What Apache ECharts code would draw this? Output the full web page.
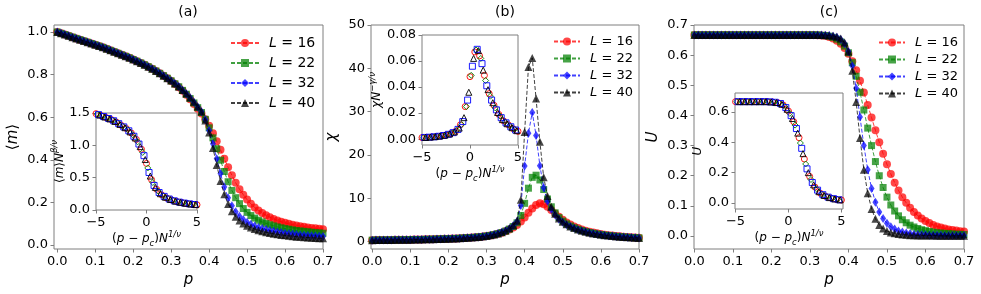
<!DOCTYPE html>
<html><head><meta charset="utf-8">
<script src="https://cdn.jsdelivr.net/npm/echarts@6/dist/echarts.min.js"></script>
<style>html,body{margin:0;padding:0;background:#fff}#c{width:981px;height:294px}</style>
</head><body><div id="c"></div>
<script>
// ---------- data ----------
const P = [0.00,0.01,0.02,0.03,0.04,0.05,0.06,0.07,0.08,0.09,
0.10,0.11,0.12,0.13,0.14,0.15,0.16,0.17,0.18,0.19,
0.20,0.21,0.22,0.23,0.24,0.25,0.26,0.27,0.28,0.29,
0.30,0.31,0.32,0.33,0.34,0.35,0.36,0.37,0.38,0.39,
0.40,0.41,0.42,0.43,0.44,0.45,0.46,0.47,0.48,0.49,
0.50,0.51,0.52,0.53,0.54,0.55,0.56,0.57,0.58,0.59,
0.60,0.61,0.62,0.63,0.64,0.65,0.66,0.67,0.68,0.69,0.70];
const LEGEND_NAMES = ['L = 16','L = 22','L = 32','L = 40'];

// panel (a): <m>
const M_16 = [1.000,0.994,0.988,0.982,0.976,0.970,0.964,0.958,0.952,0.946,
0.940,0.934,0.928,0.921,0.914,0.907,0.900,0.893,0.886,0.879,
0.871,0.863,0.855,0.846,0.837,0.827,0.817,0.806,0.795,0.783,
0.770,0.756,0.741,0.724,0.705,0.684,0.662,0.640,0.617,0.590,
0.560,0.525,0.487,0.447,0.405,0.365,0.327,0.292,0.262,0.236,
0.213,0.193,0.176,0.162,0.150,0.139,0.130,0.122,0.115,0.109,
0.104,0.099,0.095,0.091,0.088,0.085,0.082,0.080,0.078,0.076,0.074];
const M_22 = [1.000,0.994,0.988,0.982,0.976,0.970,0.964,0.958,0.952,0.946,
0.940,0.934,0.928,0.921,0.914,0.907,0.900,0.893,0.886,0.879,
0.871,0.863,0.855,0.846,0.837,0.827,0.817,0.806,0.795,0.783,
0.771,0.757,0.743,0.726,0.708,0.688,0.667,0.645,0.622,0.590,
0.550,0.503,0.452,0.398,0.345,0.297,0.256,0.222,0.194,0.171,
0.153,0.138,0.126,0.116,0.108,0.101,0.095,0.090,0.085,0.081,
0.077,0.074,0.071,0.068,0.066,0.064,0.062,0.060,0.058,0.057,0.055];
const M_32 = [1.000,0.994,0.988,0.982,0.976,0.970,0.964,0.958,0.952,0.946,
0.940,0.934,0.928,0.921,0.914,0.907,0.900,0.893,0.886,0.879,
0.871,0.863,0.855,0.846,0.837,0.827,0.817,0.806,0.795,0.783,
0.771,0.758,0.744,0.727,0.710,0.691,0.670,0.648,0.625,0.588,
0.538,0.475,0.405,0.335,0.272,0.222,0.184,0.156,0.135,0.119,
0.107,0.097,0.089,0.082,0.077,0.072,0.068,0.064,0.061,0.058,
0.055,0.053,0.051,0.049,0.047,0.046,0.044,0.043,0.042,0.041,0.040];
const M_40 = [1.000,0.994,0.988,0.982,0.976,0.970,0.964,0.958,0.952,0.946,
0.940,0.934,0.928,0.921,0.914,0.907,0.900,0.893,0.886,0.879,
0.871,0.863,0.855,0.846,0.837,0.827,0.817,0.806,0.795,0.783,
0.772,0.758,0.744,0.728,0.711,0.692,0.672,0.650,0.627,0.585,
0.528,0.455,0.375,0.300,0.238,0.192,0.158,0.133,0.115,0.101,
0.090,0.082,0.075,0.069,0.064,0.060,0.056,0.053,0.050,0.047,
0.045,0.043,0.041,0.039,0.038,0.036,0.035,0.034,0.033,0.032,0.031];

// panel (b): chi
const X_16 = [0.30,0.31,0.32,0.33,0.34,0.35,0.36,0.37,0.38,0.40,
0.41,0.43,0.44,0.46,0.48,0.50,0.52,0.54,0.57,0.60,
0.63,0.66,0.70,0.74,0.79,0.84,0.90,0.97,1.05,1.14,
1.25,1.38,1.55,1.76,2.02,2.34,2.74,3.22,3.80,4.60,
5.55,6.60,7.60,8.40,8.80,8.60,8.00,7.25,6.45,5.70,
5.00,4.40,3.90,3.45,3.08,2.75,2.48,2.24,2.04,1.86,
1.71,1.57,1.45,1.35,1.26,1.17,1.10,1.03,0.97,0.92,0.87];
const X_22 = [0.30,0.31,0.32,0.33,0.34,0.35,0.36,0.37,0.38,0.40,
0.41,0.43,0.44,0.46,0.48,0.50,0.52,0.54,0.57,0.60,
0.63,0.66,0.70,0.74,0.79,0.84,0.90,0.97,1.05,1.14,
1.25,1.39,1.57,1.79,2.06,2.40,2.85,3.45,4.30,6.00,
8.80,12.3,14.8,15.3,14.2,12.0,9.80,8.00,6.60,5.50,
4.70,4.05,3.55,3.15,2.80,2.52,2.27,2.06,1.88,1.72,
1.58,1.46,1.36,1.26,1.18,1.10,1.03,0.97,0.92,0.87,0.82];
const X_32 = [0.30,0.31,0.32,0.33,0.34,0.35,0.36,0.37,0.38,0.40,
0.41,0.43,0.44,0.46,0.48,0.50,0.52,0.54,0.57,0.60,
0.63,0.66,0.70,0.74,0.79,0.84,0.90,0.97,1.05,1.14,
1.25,1.40,1.58,1.81,2.10,2.46,2.95,3.65,4.60,8.30,
17.4,25.0,29.8,24.5,17.5,12.4,9.30,7.40,6.10,5.15,
4.45,3.88,3.42,3.04,2.72,2.45,2.21,2.01,1.83,1.68,
1.55,1.43,1.33,1.24,1.16,1.08,1.01,0.95,0.90,0.85,0.80];
const X_40 = [0.30,0.31,0.32,0.33,0.34,0.35,0.36,0.37,0.38,0.40,
0.41,0.43,0.44,0.46,0.48,0.50,0.52,0.54,0.57,0.60,
0.63,0.66,0.70,0.74,0.79,0.84,0.90,0.97,1.05,1.14,
1.25,1.41,1.60,1.83,2.13,2.50,3.02,3.75,4.80,9.60,
25.3,40.3,42.4,33.0,23.0,14.8,10.5,8.00,6.40,5.30,
4.55,3.95,3.47,3.08,2.75,2.47,2.23,2.03,1.85,1.69,
1.56,1.44,1.34,1.25,1.16,1.09,1.02,0.96,0.90,0.85,0.80];

// panel (c): U
const U_16 = [0.667,0.667,0.667,0.667,0.667,0.667,0.667,0.667,0.667,0.667,
0.667,0.667,0.667,0.667,0.667,0.667,0.667,0.667,0.667,0.667,
0.667,0.667,0.667,0.667,0.667,0.667,0.667,0.667,0.667,0.667,
0.667,0.667,0.666,0.665,0.664,0.660,0.655,0.648,0.638,0.624,
0.605,0.580,0.550,0.515,0.476,0.435,0.393,0.351,0.311,0.273,
0.238,0.206,0.177,0.151,0.129,0.110,0.094,0.080,0.068,0.058,
0.050,0.043,0.037,0.032,0.028,0.025,0.022,0.020,0.018,0.016,0.015];
const U_22 = [0.667,0.667,0.667,0.667,0.667,0.667,0.667,0.667,0.667,0.667,
0.667,0.667,0.667,0.667,0.667,0.667,0.667,0.667,0.667,0.667,
0.667,0.667,0.667,0.667,0.667,0.667,0.667,0.667,0.667,0.667,
0.667,0.667,0.667,0.666,0.665,0.663,0.659,0.653,0.644,0.630,
0.608,0.575,0.530,0.477,0.418,0.358,0.300,0.247,0.200,0.161,
0.129,0.103,0.083,0.067,0.054,0.044,0.036,0.030,0.025,0.021,
0.018,0.015,0.013,0.011,0.010,0.009,0.008,0.007,0.006,0.006,0.005];
const U_32 = [0.667,0.667,0.667,0.667,0.667,0.667,0.667,0.667,0.667,0.667,
0.667,0.667,0.667,0.667,0.667,0.667,0.667,0.667,0.667,0.667,
0.667,0.667,0.667,0.667,0.667,0.667,0.667,0.667,0.667,0.667,
0.667,0.667,0.667,0.667,0.666,0.665,0.663,0.659,0.652,0.638,
0.612,0.565,0.490,0.395,0.300,0.220,0.158,0.112,0.080,0.058,
0.042,0.031,0.023,0.017,0.013,0.010,0.008,0.006,0.005,0.004,
0.004,0.003,0.003,0.003,0.003,0.002,0.002,0.002,0.002,0.002,0.002];
const U_40 = [0.667,0.667,0.667,0.667,0.667,0.667,0.667,0.667,0.667,0.667,
0.667,0.667,0.667,0.667,0.667,0.667,0.667,0.667,0.667,0.667,
0.667,0.667,0.667,0.667,0.667,0.667,0.667,0.667,0.667,0.667,
0.667,0.667,0.667,0.667,0.666,0.666,0.664,0.661,0.655,0.642,
0.612,0.548,0.445,0.325,0.220,0.142,0.090,0.057,0.037,0.025,
0.017,0.012,0.009,0.007,0.005,0.004,0.003,0.003,0.002,0.002,
0.002,0.002,0.002,0.001,0.001,0.001,0.001,0.001,0.001,0.001,0.001];

// insets: scaled variable (p - p_c) N^{1/nu}
const IX_16 = [-5,-4.5,-4,-3.5,-3,-2.5,-2,-1.5,-1,-0.5,0,0.5,1,1.5,2,2.5,3,3.5,4,4.5,5];
const IX_22 = [-4.875,-4.375,-3.875,-3.375,-2.875,-2.375,-1.875,-1.375,-0.875,-0.375,0.125,0.625,1.125,1.625,2.125,2.625,3.125,3.625,4.125,4.625];
const IX_32 = [-4.75,-4.25,-3.75,-3.25,-2.75,-2.25,-1.75,-1.25,-0.75,-0.25,0.25,0.75,1.25,1.75,2.25,2.75,3.25,3.75,4.25,4.75];
const IX_40 = [-4.625,-4.125,-3.625,-3.125,-2.625,-2.125,-1.625,-1.125,-0.625,-0.125,0.375,0.875,1.375,1.875,2.375,2.875,3.375,3.875,4.375,4.875];
// inset (a): <m> N^{beta/nu}
const IA_16 = [1.49,1.46,1.43,1.40,1.36,1.31,1.26,1.19,1.09,0.94,0.72,0.47,0.32,0.235,0.185,0.155,0.13,0.115,0.10,0.09,0.08];
const IA_22 = [1.483,1.453,1.423,1.39,1.35,1.298,1.243,1.165,1.055,0.89,0.65,0.425,0.295,0.222,0.177,0.149,0.126,0.111,0.098,0.088];
const IA_32 = [1.475,1.445,1.415,1.38,1.335,1.285,1.225,1.14,1.02,0.84,0.58,0.38,0.27,0.21,0.17,0.142,0.122,0.107,0.095,0.085];
const IA_40 = [1.468,1.438,1.408,1.37,1.323,1.273,1.208,1.115,0.98,0.78,0.525,0.35,0.252,0.197,0.162,0.136,0.119,0.104,0.092,0.083];
// inset (b): chi N^{-gamma/nu}
const IB_16 = [0.0012,0.0014,0.0017,0.0020,0.0025,0.0032,0.0042,0.0060,0.011,0.025,0.048,0.067,0.064,0.049,0.035,0.026,0.019,0.014,0.011,0.008,0.006];
const IB_22 = [0.0012,0.0015,0.0018,0.0021,0.0027,0.0035,0.0046,0.0068,0.0112,0.025,0.049,0.0685,0.062,0.045,0.033,0.024,0.0178,0.0133,0.0102,0.0075];
const IB_32 = [0.0013,0.0015,0.0018,0.0022,0.0028,0.0037,0.0050,0.0075,0.0135,0.030,0.056,0.069,0.058,0.041,0.030,0.0225,0.0165,0.0125,0.0095,0.007];
const IB_40 = [0.0013,0.0016,0.0019,0.0024,0.003,0.004,0.0055,0.0085,0.0165,0.036,0.062,0.068,0.053,0.038,0.028,0.0205,0.015,0.0118,0.0088,0.0065];
// inset (c): U
const IC_16 = [0.667,0.667,0.667,0.667,0.667,0.667,0.667,0.665,0.66,0.645,0.605,0.535,0.43,0.29,0.175,0.105,0.065,0.045,0.033,0.025,0.02];
const IC_22 = [0.667,0.667,0.667,0.667,0.667,0.667,0.666,0.664,0.658,0.637,0.59,0.513,0.395,0.257,0.155,0.095,0.06,0.042,0.031,0.024];
const IC_32 = [0.667,0.667,0.667,0.667,0.667,0.667,0.666,0.663,0.655,0.628,0.575,0.49,0.36,0.225,0.135,0.085,0.055,0.039,0.029,0.022];
const IC_40 = [0.667,0.667,0.667,0.667,0.667,0.667,0.665,0.661,0.65,0.617,0.556,0.46,0.325,0.2,0.12,0.075,0.05,0.036,0.027,0.021];

// tick values
const TICK_P = [0,0.1,0.2,0.3,0.4,0.5,0.6,0.7];
const TICK_M = [0,0.2,0.4,0.6,0.8,1.0];
const TICK_CHI = [0,10,20,30,40,50];
const TICK_U = [0,0.1,0.2,0.3,0.4,0.5,0.6,0.7];
const TICK_IX = [-5,0,5];
const TICK_IA = [0,0.5,1.0,1.5];
const TICK_IB = [0,0.02,0.04,0.06,0.08];
const TICK_IC = [0,0.2,0.4,0.6];

// ---------- styling ----------
const FONT = 'DejaVu Sans';
const SPINE = '#7f7f7f';
const COLORS = ['#ff0000','#008000','#0000ff','#000000'];
const SYMS = ['circle','rect','diamond','triangle'];
const SYMSIZE = [8,7,[6,9],8];
const ISYMS = ['circle','diamond','rect','triangle'];
const ICOL = ['#ff0000','#008000','#0000ff','#000000'];

const neg = v => (v < 0 ? '\u2212' + Math.abs(v) : String(v));
const f1 = v => v.toFixed(1);
const f2 = v => v.toFixed(2);

const RICH = {
  n: {fontFamily: FONT, fontSize: 12, lineHeight: 18, verticalAlign: 'middle', color: '#000'},
  i: {fontFamily: FONT, fontSize: 12, fontStyle: 'italic', lineHeight: 18, verticalAlign: 'middle', color: '#000'},
  sup: {fontFamily: FONT, fontSize: 8.5, fontStyle: 'italic', lineHeight: 9, verticalAlign: 'top', color: '#000'},
  sub: {fontFamily: FONT, fontSize: 8.5, fontStyle: 'italic', lineHeight: 12, verticalAlign: 'bottom', color: '#000'}
};
const RICH_BIG = {
  n: {fontFamily: FONT, fontSize: 15, lineHeight: 18, color: '#000'},
  i: {fontFamily: FONT, fontSize: 15, fontStyle: 'italic', lineHeight: 18, color: '#000'}
};

function grid(l, t, w, h, bg) {
  return {left: l, top: t, width: w, height: h, show: true, borderColor: SPINE, borderWidth: 1,
    backgroundColor: bg || 'transparent', containLabel: false, outerBoundsMode: 'none'};
}
function axis(gi, min, max, ticks, fmt, name, nameGap, rich) {
  return {
    type: 'value', gridIndex: gi, min: min, max: max,
    axisLine: {show: false, onZero: false}, splitLine: {show: false},
    axisTick: {show: true, inside: false, length: 3.5, lineStyle: {color: SPINE, width: 1}, customValues: ticks},
    axisLabel: {customValues: ticks, formatter: fmt, margin: 6, fontSize: 13, fontFamily: FONT, color: '#000'},
    name: name, nameLocation: 'middle', nameGap: nameGap,
    nameTextStyle: {rich: rich, fontFamily: FONT, color: '#000'}
  };
}

const grids = [
  grid(54, 25, 269, 224),
  grid(371, 25, 268, 224),
  grid(694, 25, 270, 224),
  grid(96, 113, 101, 97, '#fff'),
  grid(422, 35, 96, 110, '#fff'),
  grid(735, 93, 108, 116, '#fff')
];
const INSET_X = '{n|(}{i|p}{n| \u2212 }{i|p}{sub|c}{n|)}{i|N}{sup|1/\u03bd}';
const xAxes = [
  axis(0, -0.0086, 0.7, TICK_P, f1, '{i|p}', 22, RICH_BIG),
  axis(1, -0.003, 0.7, TICK_P, f1, '{i|p}', 22, RICH_BIG),
  axis(2, -0.001, 0.7, TICK_P, f1, '{i|p}', 22, RICH_BIG),
  axis(3, -5, 5, TICK_IX, neg, INSET_X, 20, RICH),
  axis(4, -5, 5, TICK_IX, neg, INSET_X, 18, RICH),
  axis(5, -5.05, 5.15, TICK_IX, neg, INSET_X, 17, RICH)
];
const yAxes = [
  axis(0, -0.019, 1.033, TICK_M, f1, '{n|\u27e8}{i|m}{n|\u27e9}', 32, RICH_BIG),
  axis(1, -1.75, 50, TICK_CHI, v => String(v), '{i|\u03c7}', 30, RICH_BIG),
  axis(2, -0.043, 0.7, TICK_U, f1, '{i|U}', 32, RICH_BIG),
  axis(3, 0, 1.5, TICK_IA, f1, '{n|\u27e8}{i|m}{n|\u27e9}{i|N}{sup|\u03b2/\u03bd}', 24, RICH),
  axis(4, -0.0045, 0.08, TICK_IB, f2, '{i|\u03c7N}{sup|\u2212\u03b3/\u03bd}', 30, RICH),
  axis(5, -0.039, 0.724, TICK_IC, f1, '{i|U}', 28, RICH)
];

const MAIN = [[M_16, M_22, M_32, M_40], [X_16, X_22, X_32, X_40], [U_16, U_22, U_32, U_40]];
const INX = [IX_16, IX_22, IX_32, IX_40];
const INY = [[IA_16, IA_22, IA_32, IA_40], [IB_16, IB_22, IB_32, IB_40], [IC_16, IC_22, IC_32, IC_40]];

const series = [];
MAIN.forEach((set, gi) => {
  set.forEach((arr, k) => {
    series.push({
      type: 'line', name: LEGEND_NAMES[k], xAxisIndex: gi, yAxisIndex: gi,
      data: P.map((p, i) => [p, arr[i]]),
      symbol: SYMS[k], symbolSize: SYMSIZE[k], showSymbol: true, showAllSymbol: true,
      lineStyle: {type: [4, 2], width: 1, color: COLORS[k], opacity: 0.75},
      itemStyle: {color: COLORS[k], opacity: 0.72},
      z: 2 + k, animation: false, silent: true
    });
  });
});
INY.forEach((set, j) => {
  set.forEach((arr, k) => {
    series.push({
      type: 'scatter', name: 'inset' + j + '_' + k, xAxisIndex: 3 + j, yAxisIndex: 3 + j,
      data: INX[k].map((x, i) => [x, arr[i]]),
      symbol: ISYMS[k], symbolSize: 6,
      itemStyle: {color: 'rgba(0,0,0,0)', borderColor: ICOL[k], borderWidth: 1, opacity: 0.9},
      z: 10 + k, animation: false, silent: true
    });
  });
});

const legendText = {
  fontFamily: FONT, color: '#000', padding: [0, 0, 0, 5],
  rich: {
    i: {fontFamily: FONT, fontStyle: 'italic', fontSize: 13, lineHeight: 14, color: '#000'},
    n: {fontFamily: FONT, fontSize: 13, lineHeight: 14, color: '#000'}
  }
};
function legend(l, t, w, gap, fs) {
  const ts = JSON.parse(JSON.stringify(legendText));
  ts.rich.i.fontSize = fs; ts.rich.n.fontSize = fs;
  return {
    show: true, orient: 'vertical', left: l, top: t, itemWidth: w, itemHeight: 10, itemGap: gap,
    data: LEGEND_NAMES, selectedMode: false, padding: 0,
    formatter: name => '{i|L}{n|' + name.slice(1) + '}',
    textStyle: ts
  };
}

const titles = [['(a)', 188], ['(b)', 505], ['(c)', 829]].map(([t, x]) => ({
  type: 'text', x: x, y: 12,
  style: {text: t, font: '14px "DejaVu Sans"', fill: '#000', align: 'center', verticalAlign: 'middle'}
}));

const chart = echarts.init(document.getElementById('c'), null, {renderer: 'canvas'});
chart.setOption({
  animation: false,
  backgroundColor: '#fff',
  textStyle: {fontFamily: FONT},
  grid: grids,
  xAxis: xAxes,
  yAxis: yAxes,
  legend: [legend(230, 36, 28, 6, 14), legend(553, 35, 26, 4, 13), legend(878, 36, 26, 4, 13)],
  graphic: titles,
  series: series
});
</script>
</body></html>
